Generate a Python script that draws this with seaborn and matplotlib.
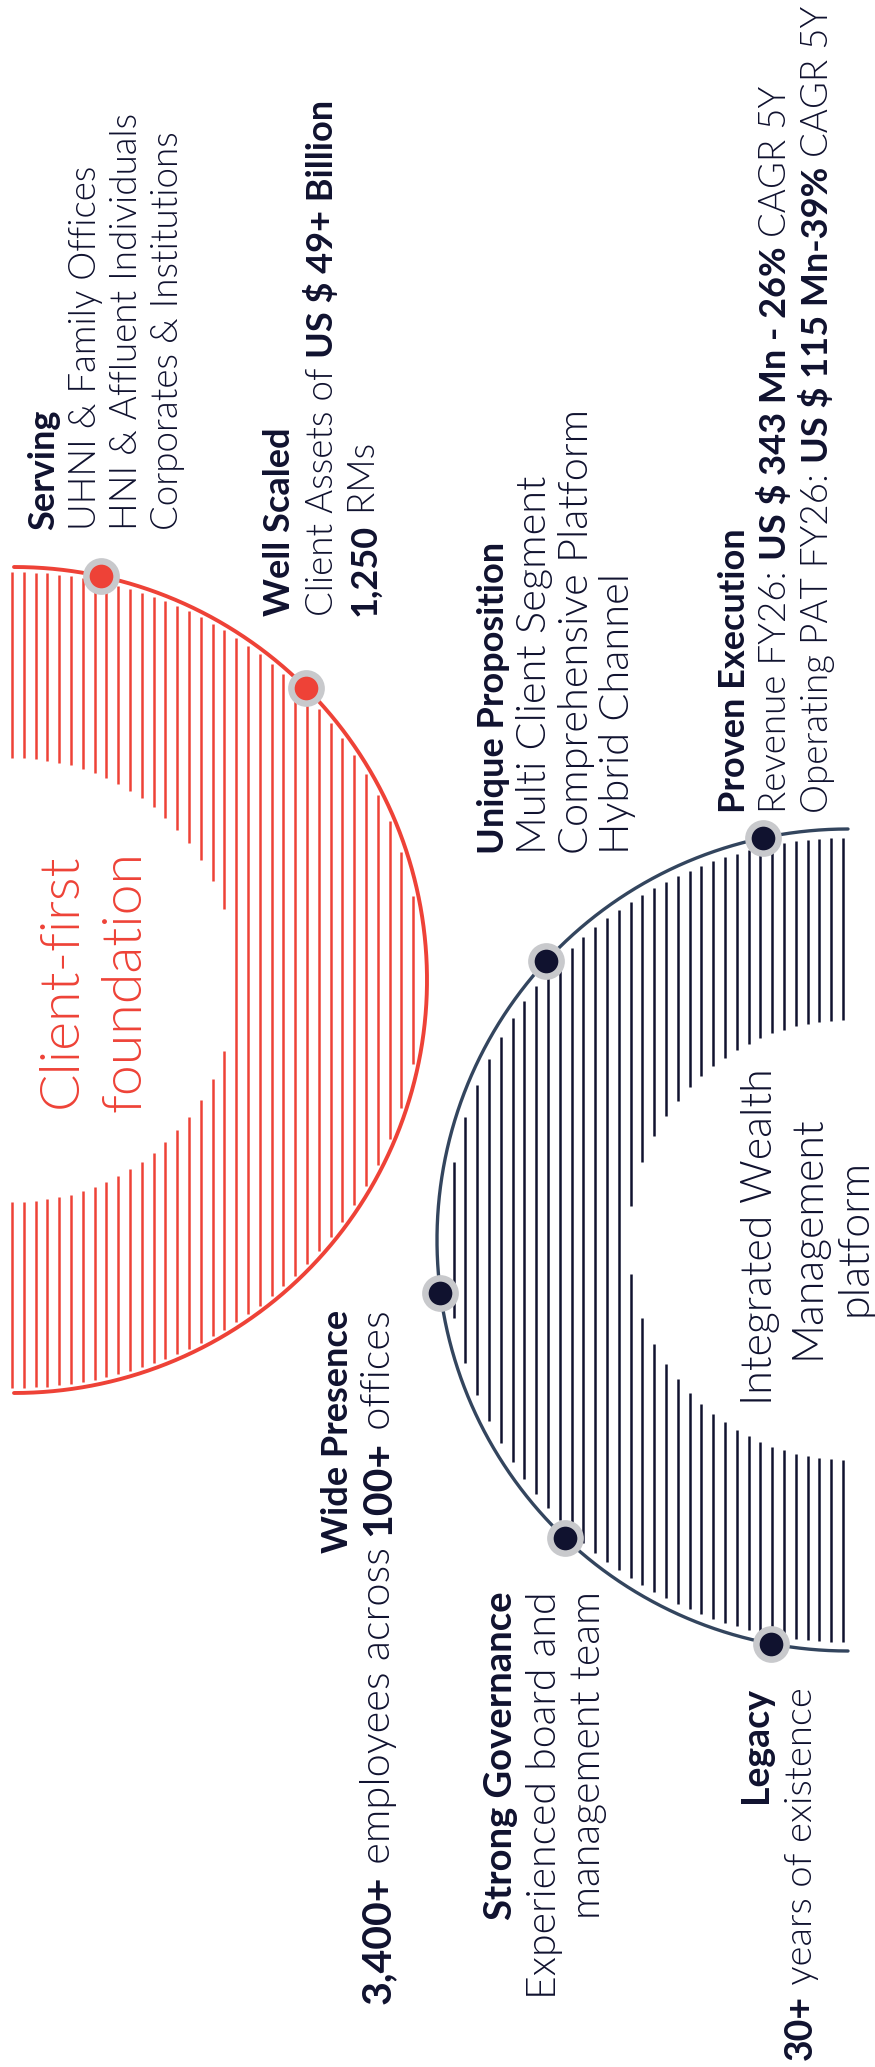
import numpy as np
import pandas as pd
import matplotlib
matplotlib.use("Agg")
import matplotlib.pyplot as plt
import seaborn as sns

# ---------------- content ----------------
red_labels = ["Serving", "Well Scaled"]
red_angles = [77.9, 45.0]
dark_labels = ["Proven Execution", "Unique Proposition", "Wide Presence",
               "Strong Governance", "Legacy"]
dark_angles = [101.9, 137.2, 187.4, 226.5, 259.2]

red_title = ["Client-first", "foundation"]
dark_title = ["Integrated Wealth", "Management", "platform"]

serving_lines = [
    [("Serving", True)],
    [("UHNI & Family Offices", False)],
    [("HNI & Affluent Individuals", False)],
    [("Corporates & Institutions", False)],
]
scaled_lines = [
    [("Well Scaled", True)],
    [("Client Assets of ", False), ("US $ 49+ Billion", True)],
    [("1,250", True), (" RMs", False)],
]
unique_lines = [
    [("Unique Proposition", True)],
    [("Multi Client Segment", False)],
    [("Comprehensive Platform", False)],
    [("Hybrid Channel", False)],
]
proven_lines = [
    [("Proven Execution", True)],
    [("Revenue FY26: ", False), ("US $ 343 Mn - 26%", True), (" CAGR 5Y", False)],
    [("Operating PAT FY26: ", False), ("US $ 115 Mn-39%", True), (" CAGR 5Y", False)],
]
presence_lines = [
    [("Wide Presence", True)],
    [("3,400+", True), (" employees across ", False), ("100+", True), (" offices", False)],
]
governance_lines = [
    [("Strong Governance", True)],
    [("Experienced board and", False)],
    [("management team", False)],
]
legacy_lines = [
    [("Legacy", True)],
    [("30+", True), (" years of existence", False)],
]

# ---------------- style / layout ----------------
RED = "#ee4237"
NAVY = "#10122f"
SLATE = "#33455e"
RING = "#c8c9cc"
FONT = ["Lato", "DejaVu Sans"]
LIGHT = 300

W, H = 875, 2067
red_c, red_r = (14, 980), 413
dark_c, dark_r = (848, 1240), 411

sns.set_theme(style="white")
plt.rcParams["font.family"] = FONT

fig = plt.figure(figsize=(W / 100, H / 100), dpi=100)
ax = fig.add_axes([0, 0, 1, 1])
renderer = fig.canvas.get_renderer()


def text_len(s, size, bold):
    t = ax.text(0, 0, s + "|", fontsize=size, fontweight="bold" if bold else LIGHT)
    w1 = t.get_window_extent(renderer).width
    t.set_text("|")
    w0 = t.get_window_extent(renderer).width
    t.remove()
    return w1 - w0


def draw_line(xb, y0, segs, size, bsize, align, color=NAVY):
    sizes = [bsize if b else size for _, b in segs]
    lens = [text_len(s, sz, b) for (s, b), sz in zip(segs, sizes)]
    total = sum(lens)
    y = y0 if align == "left" else (y0 + total if align == "right" else y0 + total / 2)
    for (s, b), sz, ln in zip(segs, sizes, lens):
        ax.text(xb, y, s, rotation=90, rotation_mode="anchor", ha="left",
                va="baseline", fontsize=sz, color=color,
                fontweight="bold" if b else LIGHT)
        y -= ln


def draw_block(lines, xbs, y0, sizes, bsizes, align, color=NAVY):
    n = len(lines)
    if np.isscalar(sizes):
        sizes = [sizes] * n
    if np.isscalar(bsizes):
        bsizes = [bsizes] * n
    for segs, xb, sz, bsz in zip(lines, xbs, sizes, bsizes):
        draw_line(xb, y0, segs, sz, bsz, align, color)


def hatch(center, r_in, r_out, xs, color, lw):
    cx, cy = center
    for x in xs:
        dx = x - cx
        if abs(dx) >= r_out:
            continue
        yo = np.sqrt(r_out ** 2 - dx ** 2)
        if abs(dx) < r_in:
            yi = np.sqrt(r_in ** 2 - dx ** 2)
            ax.vlines([x, x], [cy - yo, cy + yi], [cy - yi, cy + yo], color=color, lw=lw)
        else:
            ax.vlines(x, cy - yo, cy + yo, color=color, lw=lw)


def arc(center, r, t0, t1, color, lw):
    cx, cy = center
    t = np.radians(np.linspace(t0, t1, 400))
    ax.plot(cx + r * np.cos(t), cy - r * np.sin(t), color=color, lw=lw,
            solid_capstyle="round")


# hatched half rings
hatch(red_c, 222, 408, np.arange(12, 430, 11.8), RED, 1.8)
hatch(dark_c, 220, 402, np.arange(843, 430, -11.8), NAVY, 1.8)

arc(red_c, red_r, -90, 90, RED, 2.8)
arc(dark_c, dark_r, 90, 270, SLATE, 2.4)

# dots on the arcs
def dot_frame(center, r, angles, labels):
    a = np.radians(angles)
    return pd.DataFrame({"x": center[0] + r * np.cos(a),
                         "y": center[1] - r * np.sin(a),
                         "label": labels})

red_df = dot_frame(red_c, red_r, red_angles, red_labels)
dark_df = dot_frame(dark_c, dark_r, dark_angles, dark_labels)
for df, col in [(red_df, RED), (dark_df, NAVY)]:
    sns.scatterplot(data=df, x="x", y="y", ax=ax, s=700, color=RING,
                    linewidth=0, legend=False, zorder=5)
    sns.scatterplot(data=df, x="x", y="y", ax=ax, s=290, color=col,
                    linewidth=0, legend=False, zorder=6)

# text blocks
draw_block(serving_lines, [54, 96, 137, 178], 530, 26.5, 26, "left")
draw_block(scaled_lines, [290, 333, 375], 616, 26.5, 26, "left")
draw_block(unique_lines, [504, 546, 588, 629], 854, 30, 26, "left")
draw_block(proven_lines, [745, 786, 828], 813, 26.5, 26, "left")
draw_block(presence_lines, [348, 390], 1310, [26.5, 30], [26, 29.5], "right")
draw_block(governance_lines, [512, 556, 600], 1591, [29.5, 29.5, 29.5], 27.5, "right")
draw_block(legacy_lines, [767, 812], 1687, 27.5, 27, "right")

for t, xb in zip(red_title, [77, 140]):
    draw_line(xb, 981, [(t, False)], 40, 40, "center", RED)
for t, xb in zip(dark_title, [772, 820, 867]):
    draw_line(xb, 1237, [(t, False)], 31, 31, "center", NAVY)

ax.set_xlim(0, W)
ax.set_ylim(H, 0)
ax.axis("off")
fig.savefig("out.png", dpi=100, facecolor="white")
